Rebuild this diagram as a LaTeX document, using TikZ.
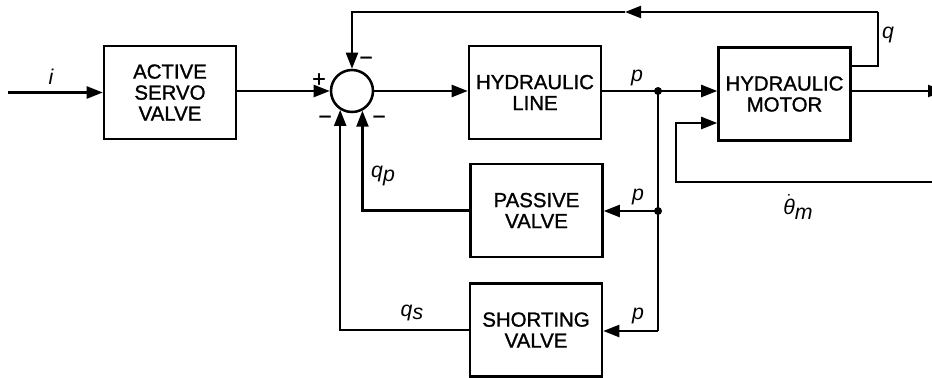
\documentclass[tikz,border=0pt]{standalone}
\usepackage{fontspec}
\setmainfont{Liberation Sans}
\newfontfamily\blkfam{Liberation Sans}[FakeBold=1.2]
\usetikzlibrary{arrows.meta,calc}
\newcommand\blkfont{\blkfam\fontsize{15.3}{15.75}\selectfont}
\newcommand\lblfont{\fontsize{16}{16}\selectfont\itshape}
\newcommand\sgnfont{\blkfam\fontsize{17}{17}\selectfont}
\begin{document}
\begin{tikzpicture}[x=0.75pt,y=-0.75pt,
  block/.style={draw,line width=1.9pt,minimum width=99pt,minimum height=70pt,align=center,inner sep=0pt,font=\blkfont},
  sig/.style={line width=1.6pt},
  arr/.style={sig,-{Triangle[length=12pt,width=9pt]}},
  lab/.style={font=\lblfont,inner sep=0pt},
  sgn/.style={font=\sgnfont,inner sep=0pt},
  dotn/.style={circle,fill,inner sep=0pt,minimum size=6pt}]
\useasboundingbox (0,0) rectangle (932,378);
% blocks
\node[block] (asv) at (170,92.5) {ACTIVE\\SERVO\\VALVE};
\node[circle,draw,line width=1.9pt,minimum size=31.5pt,inner sep=0pt] (sum) at (352,91) {};
\node[block] (hl) at (535,92.5) {HYDRAULIC\\LINE};
\node[block] (hm) at (784.5,94) {HYDRAULIC\\MOTOR};
\node[block] (pv) at (536.5,210.5) {PASSIVE\\VALVE};
\node[block] (sv) at (536,330) {SHORTING\\VALVE};
% coordinates
\coordinate (in) at (8,92.5);
\coordinate (j1) at (658,91);
\coordinate (j2) at (658,211);
\coordinate (j3) at (658,331);
\coordinate (qo) at (878,66);
\coordinate (qc) at (878,12);
\coordinate (qm) at (625,12);
\coordinate (out) at (944,91);
\coordinate (th) at (932,182);
\coordinate (tc) at (676,182);
% forward path
\draw[arr] (in) -- (asv.west);
\draw[arr] (asv.east |- sum.west) -- (sum.west);
\draw[arr] (sum.east) -- (sum.east -| hl.west);
\draw[sig] (hl.east |- j1) -- (j1);
\draw[arr] (j1) -- (j1 -| hm.west);
\draw[arr] (hm.east |- out) -- (out);
% q feedback
\draw[sig] (qo -| hm.east) -- (qo) -- (qc);
\draw[arr] (qc) -- (qm);
\draw[arr] (qm) -- (qm -| sum) -- (sum.north);
% theta dot input
\draw[arr] (th) -- (tc) |- ($(hm.west)+(0,29)$);
% p branches
\draw[sig] (j1) -- (j3);
\draw[arr] (j2) -- (j2 -| pv.east);
\draw[arr] (j3) -- (j3 -| sv.east);
\node[dotn] (d1) at (j1) {};
\node[dotn] (d2) at (j2) {};
% valve feedback
\draw[arr] (pv.west) -| (sum.-62);
\draw[arr] (sv.west) -| (sum.-122);
% labels
\node[lab] (li) at (51,77) {i};
\node[sgn] (lplus) at (319,80) {+};
\node[sgn] (lmt) at (366,61) {−};
\node[sgn] (lml) at (325,120) {−};
\node[sgn] (lmr) at (379,120) {−};
\node[lab] (lp1) at (637,78) {p};
\node[lab] (lp2) at (638,197) {p};
\node[lab] (lp3) at (638,316) {p};
\node[lab] (lq) at (888,35) {q};
\node[lab] (lqp) at (383,176) {q\raisebox{-0.2em}{p}};
\node[lab] (lqs) at (412,313) {q\raisebox{-0.15em}{s}};
\node[lab] (lth) at (798,207) {$\dot{\hbox{\lblfont θ}}$\raisebox{-0.25em}{m}};
\end{tikzpicture}
\end{document}
